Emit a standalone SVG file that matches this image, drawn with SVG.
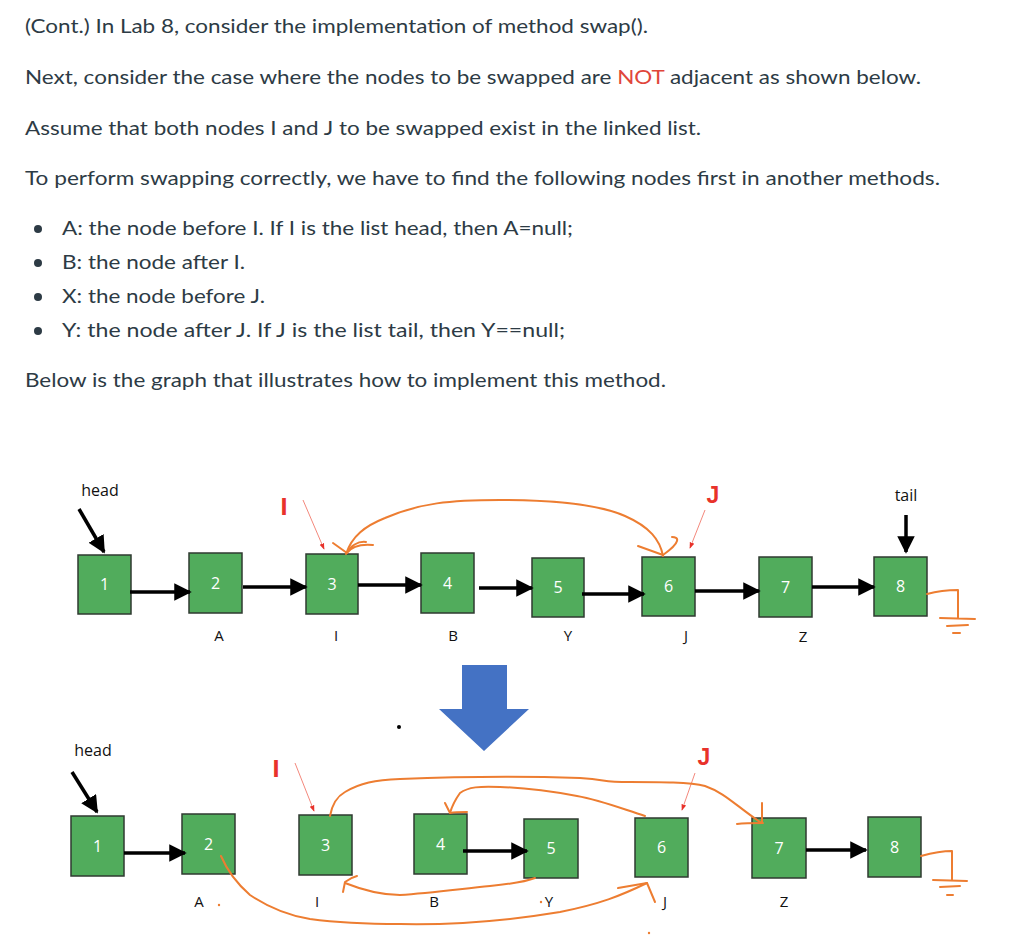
<svg xmlns="http://www.w3.org/2000/svg" width="1024" height="945" viewBox="0 0 1024 945">
<style>
.t{font-family:Lato,"Open Sans","Liberation Sans",sans-serif;font-size:20px;fill:#2d3b45}
.n rect{fill:#51ac5c;stroke:#2f3a30;stroke-width:1.5}
.n text{font-family:"Open Sans","Liberation Sans",sans-serif;font-size:16px;fill:#fff;text-anchor:middle}
.lb{font-family:"Open Sans","Liberation Sans",sans-serif;font-size:15px;fill:#111;text-anchor:middle}
.hd{font-family:"Open Sans","Liberation Sans",sans-serif;font-size:16px;fill:#111;text-anchor:middle}
.red{font-family:"Liberation Sans",sans-serif;font-weight:bold;font-size:23px;fill:#e8322a;text-anchor:middle}
.bk{stroke:#000;stroke-width:3.5;fill:none;marker-end:url(#ah)}
.or{stroke:#ed7d31;stroke-width:2;fill:none;stroke-linecap:round;stroke-linejoin:round}
.rl{stroke:#f06a5a;stroke-width:0.8;fill:none;marker-end:url(#rh)}
</style>
<defs>
<marker id="ah" markerWidth="5" markerHeight="5" refX="4.5" refY="2.5" orient="auto" markerUnits="strokeWidth"><path d="M0,0 L5,2.5 L0,5 z" fill="#000"/></marker>
<marker id="rh" markerWidth="8" markerHeight="8" refX="7" refY="4" orient="auto" markerUnits="strokeWidth"><path d="M0,1 L8,4 L0,7 z" fill="#e8322a"/></marker>
</defs>
<rect width="1024" height="945" fill="#fff"/>
<g id="text">
<text class="t" x="25" y="33" textLength="623" lengthAdjust="spacingAndGlyphs">(Cont.) In Lab 8, consider the implementation of method swap().</text>
<text class="t" x="25" y="84" textLength="896" lengthAdjust="spacingAndGlyphs">Next, consider the case where the nodes to be swapped are <tspan fill="#e0463a">NOT</tspan> adjacent as shown below.</text>
<text class="t" x="25" y="135" textLength="676" lengthAdjust="spacingAndGlyphs">Assume that both nodes I and J to be swapped exist in the linked list.</text>
<text class="t" x="25" y="185" textLength="915" lengthAdjust="spacingAndGlyphs">To perform swapping correctly,  we have to find the following nodes first in another methods.</text>
<circle cx="38" cy="229" r="4" fill="#2d3b45"/>
<circle cx="38" cy="263" r="4" fill="#2d3b45"/>
<circle cx="38" cy="297" r="4" fill="#2d3b45"/>
<circle cx="38" cy="331" r="4" fill="#2d3b45"/>
<text class="t" x="62" y="235" textLength="511" lengthAdjust="spacingAndGlyphs">A: the node before I. If I is the list head, then A=null;</text>
<text class="t" x="62" y="269" textLength="183" lengthAdjust="spacingAndGlyphs">B: the node after I.</text>
<text class="t" x="62" y="303" textLength="203" lengthAdjust="spacingAndGlyphs">X: the node before J.</text>
<text class="t" x="62" y="337" textLength="503" lengthAdjust="spacingAndGlyphs">Y: the node after J. If J is the list tail, then Y==null;</text>
<text class="t" x="25" y="387" textLength="641" lengthAdjust="spacingAndGlyphs">Below is the graph that illustrates how to implement this method.</text>
</g>
<g id="top-nodes">
<g id="t1" class="n"><rect x="78" y="555" width="53" height="59"/><text x="104.5" y="590">1</text></g>
<g id="t2" class="n"><rect x="189" y="553" width="53" height="60"/><text x="215.5" y="589">2</text></g>
<g id="t3" class="n"><rect x="306" y="554" width="52" height="60"/><text x="332" y="590">3</text></g>
<g id="t4" class="n"><rect x="421" y="553" width="53" height="60"/><text x="447.5" y="589">4</text></g>
<g id="t5" class="n"><rect x="532" y="558" width="52" height="59"/><text x="558" y="593">5</text></g>
<g id="t6" class="n"><rect x="642" y="557" width="53" height="59"/><text x="668.5" y="592">6</text></g>
<g id="t7" class="n"><rect x="759" y="557" width="53" height="60"/><text x="785.5" y="593">7</text></g>
<g id="t8" class="n"><rect x="874" y="557" width="53" height="59"/><text x="900.5" y="592">8</text></g>
</g>
<g id="top-labels">
<text class="hd" x="100" y="496">head</text>
<text class="hd" x="906" y="501">tail</text>
<text class="lb" x="219" y="641">A</text>
<text class="lb" x="336" y="641">I</text>
<text class="lb" x="453" y="641">B</text>
<text class="lb" x="568" y="641">Y</text>
<text class="lb" x="686" y="641">J</text>
<text class="lb" x="803" y="642">Z</text>
<text class="red" x="284" y="515" textLength="7" lengthAdjust="spacingAndGlyphs">I</text>
<text class="red" x="713" y="503">J</text>
</g>
<g id="top-connectors">
<line class="bk" x1="79" y1="509" x2="104" y2="552"/>
<line class="bk" x1="906" y1="515" x2="906" y2="552"/>
<line class="bk" x1="130" y1="592" x2="190" y2="592"/>
<line class="bk" x1="243" y1="587" x2="306" y2="587"/>
<line class="bk" x1="358" y1="585" x2="421" y2="585"/>
<line class="bk" x1="479" y1="588" x2="532" y2="588"/>
<line class="bk" x1="582" y1="594" x2="644" y2="594"/>
<line class="bk" x1="695" y1="591" x2="759" y2="591"/>
<line class="bk" x1="812" y1="587" x2="874" y2="587"/>
<line class="rl" x1="303" y1="500" x2="324" y2="549"/>
<line class="rl" x1="705" y1="510" x2="690" y2="548"/>
<path class="or" d="M346,554 C352,536 365,526 385,518 C420,503 450,500 500,500 C560,500 600,505 625,516 C650,527 660,540 663,556"/>
<path class="or" d="M333,543 L347,553 C352,546 362,544 373,545 M347,553 C350,546 358,541 366,542"/>
<path class="or" d="M638,546 L663,555 C670,550 676,545 677,541 C678,538 675,537 672,537"/>
<path class="or" d="M927,594 C938,591 948,590 958,590 L958,618 M940,618 L975,619 M947,626 L968,625 M953,633 L960,633"/>
</g>
<g id="arrow-down">
<path d="M462,665 L507,665 L507,709 L529,709 L484,751 L439,709 L462,709 z" fill="#4472c4"/>
<circle cx="399" cy="727" r="2" fill="#000"/>
</g>
<g id="bottom-nodes">
<g id="b1" class="n"><rect x="71" y="816" width="53" height="60"/><text x="97.5" y="852">1</text></g>
<g id="b2" class="n"><rect x="182" y="814" width="53" height="60"/><text x="208.5" y="850">2</text></g>
<g id="b3" class="n"><rect x="299" y="815" width="53" height="60"/><text x="325.5" y="851">3</text></g>
<g id="b4" class="n"><rect x="414" y="814" width="53" height="60"/><text x="440.5" y="850">4</text></g>
<g id="b5" class="n"><rect x="524" y="819" width="54" height="59"/><text x="551" y="854">5</text></g>
<g id="b6" class="n"><rect x="635" y="818" width="53" height="59"/><text x="661.5" y="853">6</text></g>
<g id="b7" class="n"><rect x="752" y="818" width="54" height="60"/><text x="779" y="854">7</text></g>
<g id="b8" class="n"><rect x="868" y="817" width="53" height="60"/><text x="894.5" y="853">8</text></g>
</g>
<g id="bottom-labels">
<text class="hd" x="93" y="756">head</text>
<text class="lb" x="199" y="907">A</text>
<text class="lb" x="317" y="907">I</text>
<text class="lb" x="434" y="907">B</text>
<text class="lb" x="549" y="907">Y</text>
<text class="lb" x="665" y="907">J</text>
<text class="lb" x="784" y="907">Z</text>
<text class="red" x="276" y="777" textLength="7" lengthAdjust="spacingAndGlyphs">I</text>
<text class="red" x="704" y="765">J</text>
<circle cx="219" cy="905" r="1.2" fill="#ed7d31"/>
<circle cx="541" cy="902" r="1.2" fill="#ed7d31"/>
<circle cx="649" cy="933" r="1.2" fill="#ed7d31"/>
</g>
<g id="bottom-connectors">
<line class="bk" x1="72" y1="772" x2="97" y2="812"/>
<line class="bk" x1="124" y1="853" x2="185" y2="853"/>
<line class="bk" x1="463" y1="851" x2="527" y2="851"/>
<line class="bk" x1="806" y1="850" x2="866" y2="850"/>
<line class="rl" x1="295" y1="763" x2="314" y2="811"/>
<line class="rl" x1="695" y1="773" x2="682" y2="810"/>
<path class="or" d="M330,816 C332,805 336,797 345,792 C360,783 375,780 400,779 C450,777 520,776 580,778 C610,780 600,782 630,782 C660,782 690,782 705,786 C725,793 735,805 760,822"/>
<path class="or" d="M737,824 C745,823 755,823 763,823 M762,803 L762,823"/>
<path class="or" d="M645,816 C620,808 600,800 577,796 C550,791 530,788 500,787 C480,786 468,787 460,793 C455,800 452,806 450,813"/>
<path class="or" d="M445,803 L450,813 C455,812 461,812 467,812"/>
<path class="or" d="M535,878 C525,882 510,884 490,886 C460,889 430,893 400,895 C385,895 370,893 345,883"/>
<path class="or" d="M343,892 L345,882 C349,879 353,877 357,876"/>
<path class="or" d="M221,856 C227,870 235,882 250,895 C265,905 285,915 310,919 C340,923 360,924 400,924 C450,925 500,922 560,912 C600,904 620,896 647,883"/>
<path class="or" d="M618,888 L647,883 L655,902"/>
<path class="or" d="M921,856 C932,853 942,851 952,851 L952,880 M933,880 L967,881 M940,887 L960,886 M947,895 L953,895"/>
</g>
</svg>
